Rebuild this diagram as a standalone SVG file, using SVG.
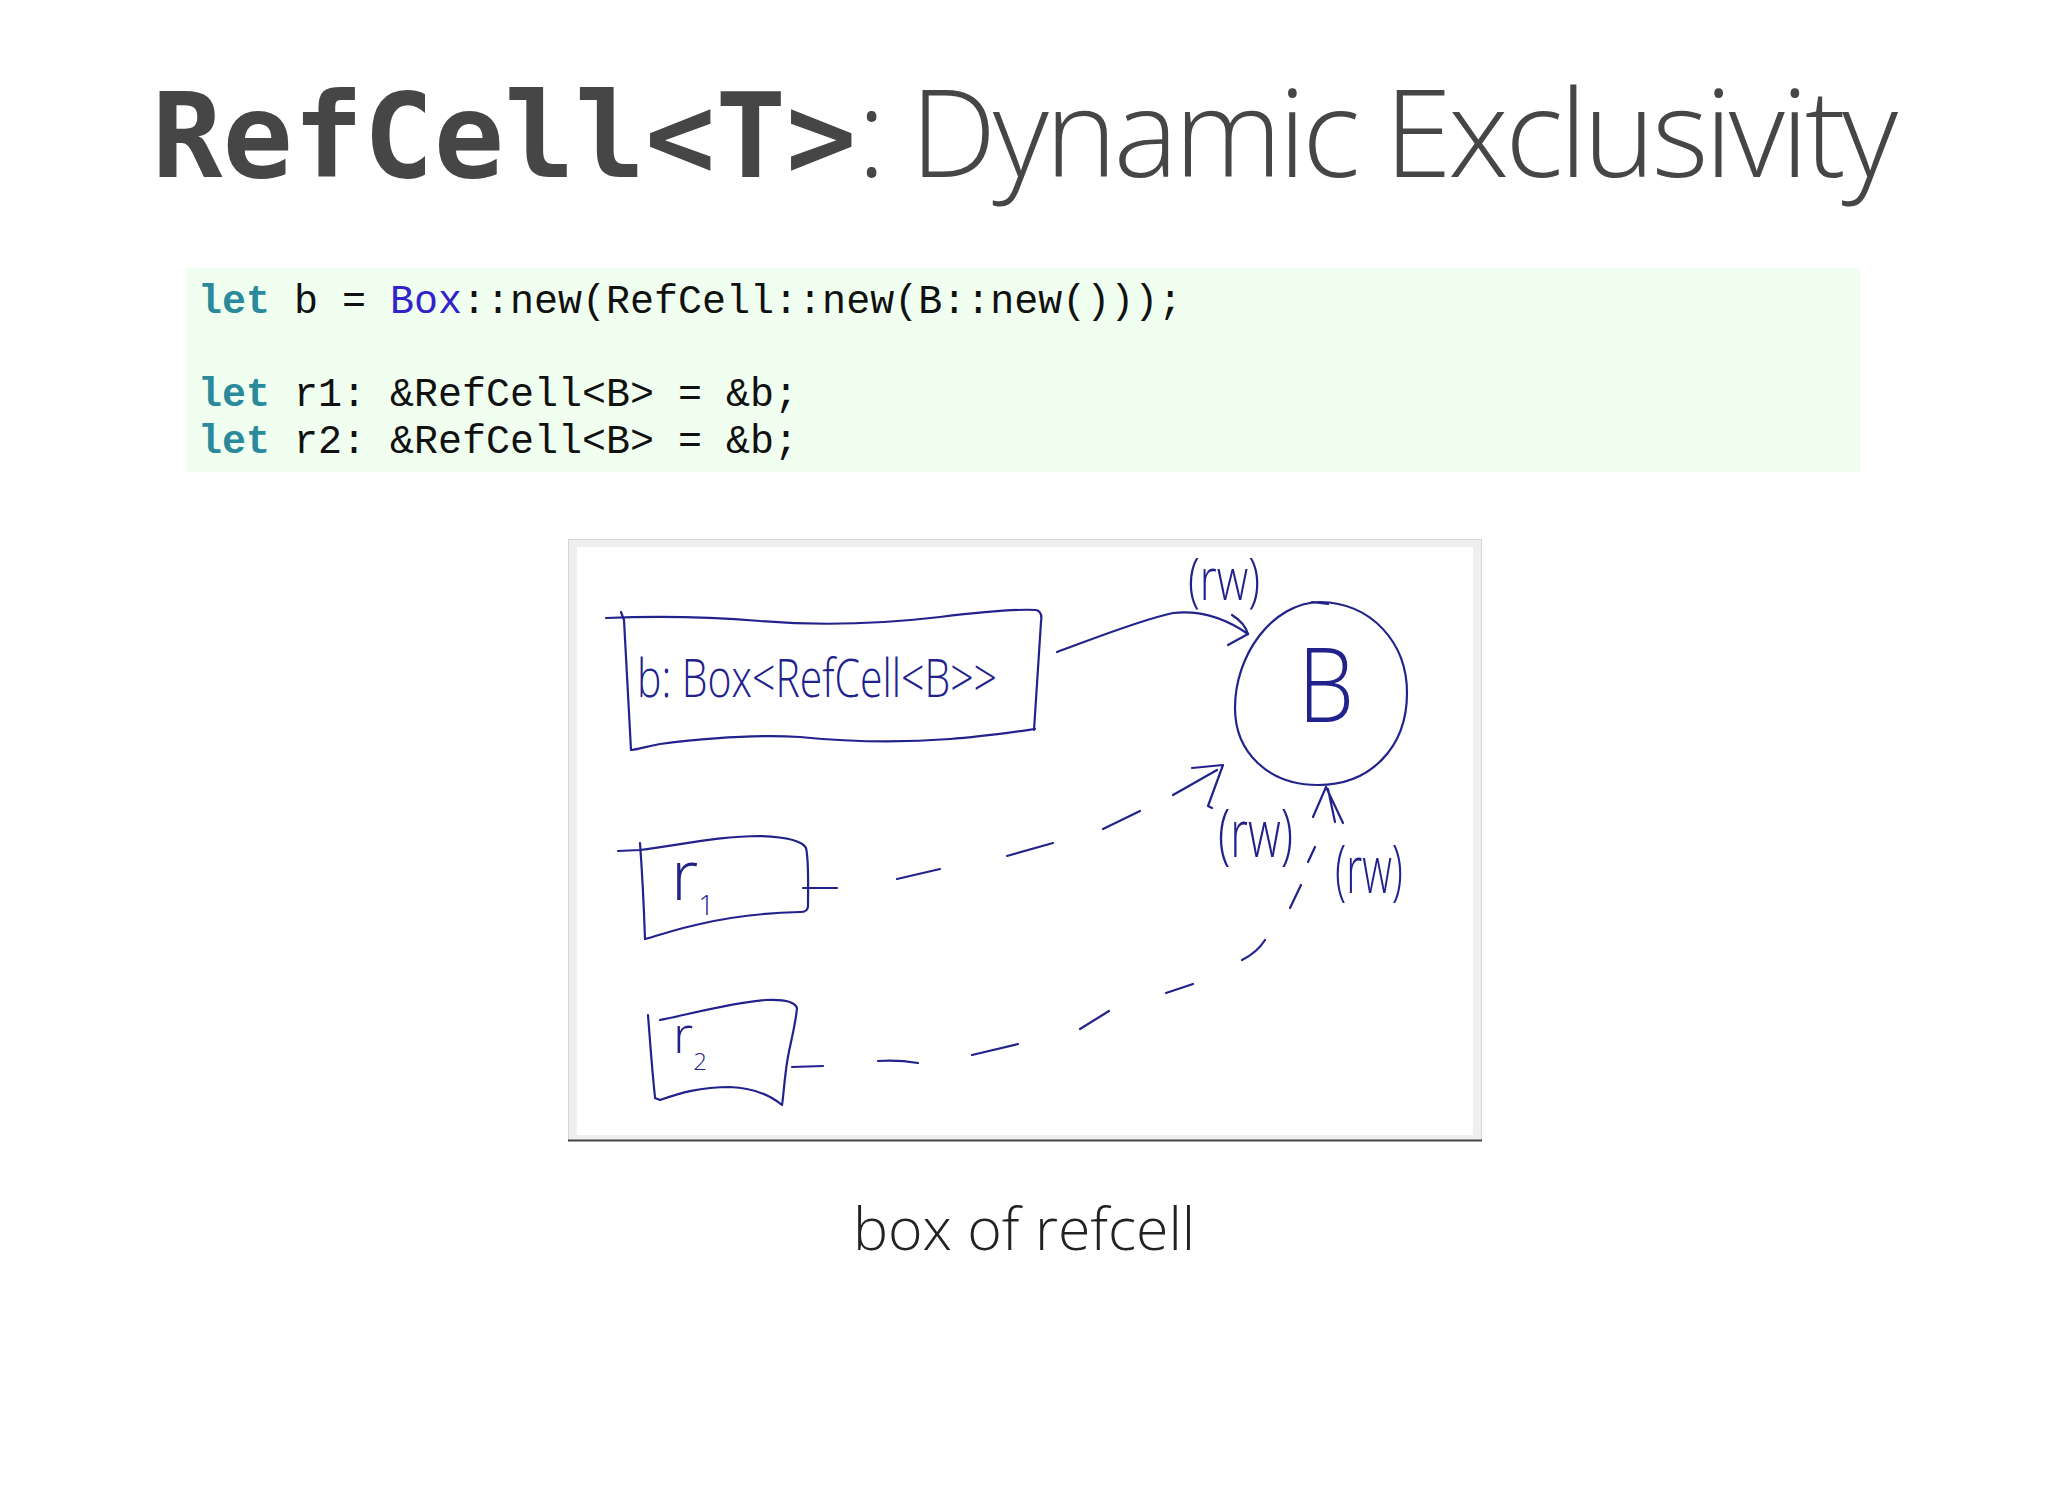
<svg xmlns="http://www.w3.org/2000/svg" width="2048" height="1494" viewBox="0 0 2048 1494">
<style>
.title-mono{font-family:"DejaVu Sans Mono","Liberation Mono",monospace;font-weight:bold;font-size:117px;fill:#464646}
.title-sans{font-family:"Open Sans","Noto Sans",sans-serif;font-weight:300;font-size:122px;fill:#464646}
.code{font-family:"Liberation Mono","Courier New",monospace;font-size:40px;fill:#111}
.kw{fill:#2a8a9c;font-weight:bold}
.ty{fill:#3322cc}
.caption{font-family:"Open Sans","Noto Sans",sans-serif;font-weight:300;font-size:59px;fill:#222}
.ink{fill:none;stroke:#22228c;stroke-width:2.2;stroke-linecap:round;stroke-linejoin:round}
.hand{font-family:"Open Sans","DejaVu Sans",sans-serif;font-weight:300;fill:#22228c}
</style>
<rect x="0" y="0" width="2048" height="1494" fill="#ffffff"/>

<g id="title">
<text class="title-mono" x="152" y="177">RefCell&lt;T&gt;</text>
<text class="title-sans" x="857" y="177" textLength="1041">: Dynamic Exclusivity</text>
</g>

<g id="code">
<rect x="186" y="268" width="1674" height="204" fill="#f0fff0"/>
<text class="code" x="198" y="313" xml:space="preserve"><tspan class="kw">let</tspan> b = <tspan class="ty">Box</tspan>::new(RefCell::new(B::new()));</text>
<text class="code" x="198" y="406" xml:space="preserve"><tspan class="kw">let</tspan> r1: &amp;RefCell&lt;B&gt; = &amp;b;</text>
<text class="code" x="198" y="453" xml:space="preserve"><tspan class="kw">let</tspan> r2: &amp;RefCell&lt;B&gt; = &amp;b;</text>
</g>

<g id="frame">
<rect x="568.5" y="539.5" width="913" height="601" fill="#efefef" stroke="#d6d6d6" stroke-width="1"/>
<rect x="577" y="547" width="896" height="588" fill="#ffffff"/>
<line x1="568" y1="1140.5" x2="1482" y2="1140.5" stroke="#444" stroke-width="2"/>
</g>

<g id="node-b">
<path class="ink" d="M606,618 C650,616 700,616 760,621 C820,626 880,624 940,617 C990,611 1020,609 1036,610 C1041,611 1042,616 1041,622 L1034,730"/>
<path class="ink" d="M1035,729 C1000,734 980,737 950,739 C900,743 850,742 800,737 C750,734 700,739 660,744 C645,747 638,749 632,750"/>
<path class="ink" d="M621,612 L624,620 C626,660 629,710 631,750"/>
<text class="hand" x="637" y="697" font-size="54" textLength="360" lengthAdjust="spacingAndGlyphs">b: Box&lt;RefCell&lt;B&gt;&gt;</text>
</g>

<g id="node-B">
<path class="ink" d="M1320,602 C1372,603 1407,643 1407,693 C1407,748 1370,785 1318,785 C1268,785 1235,752 1235,708 C1235,655 1272,603 1320,602 Z"/>
<path class="ink" d="M1312,602 L1328,604"/>
<text class="hand" x="1298" y="722" font-size="104" textLength="56" lengthAdjust="spacingAndGlyphs">B</text>
</g>

<g id="node-r1">
<path class="ink" d="M618,851 L640,850 C680,845 720,836 760,836 C790,837 803,842 806,848 C809,860 808,890 808,906 C808,911 805,912 800,912 C760,913 730,917 700,924 C680,928 660,935 645,939"/>
<path class="ink" d="M640,843 C642,870 644,910 645,939"/>
<text class="hand" x="671" y="900" font-size="70">r<tspan font-size="28" dy="15">1</tspan></text>
</g>

<g id="node-r2">
<path class="ink" d="M660,1020 C690,1014 730,1003 765,1000 C785,999 795,1002 797,1008 C795,1030 788,1050 786,1070 C784,1085 783,1100 782,1105 C770,1095 755,1088 730,1087 C700,1087 680,1093 660,1100 L655,1098"/>
<path class="ink" d="M648,1015 C650,1040 652,1070 655,1097"/>
<text class="hand" x="673" y="1053" font-size="52">r<tspan font-size="24" dy="17">2</tspan></text>
</g>

<g id="labels">
<text class="hand" x="1188" y="600" font-size="58" textLength="72" lengthAdjust="spacingAndGlyphs">(rw)</text>
<text class="hand" x="1218" y="857" font-size="66" textLength="75" lengthAdjust="spacingAndGlyphs">(rw)</text>
<text class="hand" x="1335" y="893" font-size="66" textLength="68" lengthAdjust="spacingAndGlyphs">(rw)</text>
</g>

<g id="connectors">
<path class="ink" d="M1057,652 C1090,640 1140,620 1173,613 C1200,610 1225,618 1248,634"/>
<path class="ink" d="M1232,615 C1240,620 1246,627 1248,634 L1228,645"/>
<path class="ink" d="M803,888 L837,888 M897,879 L940,869 M1007,856 L1053,843 M1103,829 L1140,811 M1173,795 L1217,770"/>
<path class="ink" d="M1192,768 L1223,765 L1208,806 L1212,808"/>
<path class="ink" d="M792,1067 L823,1066 M878,1061 C892,1060 906,1061 918,1063 M972,1055 L1018,1044 M1080,1029 L1109,1011 M1166,993 L1193,984 M1242,960 C1252,955 1260,948 1265,940 M1290,908 L1301,885 M1308,862 L1315,847"/>
<path class="ink" d="M1313,817 L1326,787 L1343,823 M1328,789 L1335,822"/>
</g>

<g id="caption">
<text class="caption" x="1024" y="1250" text-anchor="middle">box of refcell</text>
</g>
</svg>
